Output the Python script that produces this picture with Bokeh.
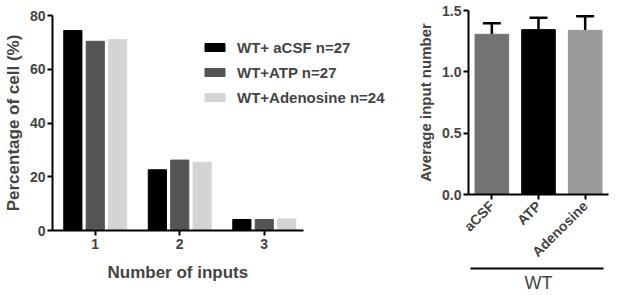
from bokeh.plotting import figure
from bokeh.layouts import row, column
from bokeh.models import (ColumnDataSource, Legend, LegendItem, FixedTicker, Whisker, TeeHead,
                          LinearAxis, Range1d, PrintfTickFormatter, Title)
from bokeh.embed import file_html
from bokeh.resources import INLINE
import math

# ---- data ----
groups = [1, 2, 3]
series_names = ["WT+ aCSF n=27", "WT+ATP n=27", "WT+Adenosine n=24"]
series_colors = ["#000000", "#555555", "#d4d4d4"]
aCSF_pct = [74.4, 22.6, 4.1]
ATP_pct = [70.4, 26.2, 4.1]
Adenosine_pct = [71.0, 25.4, 4.3]
left_y_ticks = [0, 20, 40, 60, 80]

conditions = ["aCSF", "ATP", "Adenosine"]
avg_input = [1.306, 1.344, 1.338]
avg_err = [0.091, 0.097, 0.116]
cond_colors = ["#747474", "#000000", "#9a9a9a"]
right_y_ticks = [0.0, 0.5, 1.0, 1.5]
group_label = "WT"

FONT = "Liberation Sans"

# ---- left chart ----
p1 = figure(width=390, height=295, output_backend="svg", toolbar_location=None,
            x_range=Range1d(0.494, 4.494), y_range=Range1d(0, 80),
            min_border_left=50, min_border_right=0, min_border_top=15, min_border_bottom=65)
p1.outline_line_color = None
p1.grid.grid_line_color = None

offsets = [-0.265, 0.0, 0.265]
renderers = []
for vals, off, col in zip([aCSF_pct, ATP_pct, Adenosine_pct], offsets, series_colors):
    src = ColumnDataSource(dict(x=[g + off for g in groups], top=vals))
    r = p1.vbar(x="x", top="top", width=0.215, bottom=0, source=src,
                fill_color=col, line_color=col)
    renderers.append(r)

legend = Legend(items=[LegendItem(label=n, renderers=[r]) for n, r in zip(series_names, renderers)],
                location=(150, 123), border_line_alpha=0, background_fill_alpha=0,
                padding=0, margin=0, spacing=5, glyph_width=25, glyph_height=10,
                label_height=20, label_standoff=10,
                label_text_font=FONT, label_text_font_style="bold", label_text_font_size="15px")
p1.add_layout(legend, "center")

p1.xaxis.ticker = FixedTicker(ticks=groups)
p1.xaxis.bounds = (0.494, 3.47)
p1.yaxis.ticker = FixedTicker(ticks=left_y_ticks)
for ax in [p1.xaxis[0], p1.yaxis[0]]:
    ax.axis_line_width = 2
    ax.major_tick_line_width = 2
    ax.major_tick_out = 5
    ax.major_tick_in = 0
    ax.minor_tick_line_color = None
    ax.major_label_text_font = FONT
    ax.major_label_text_font_style = "bold"
    ax.major_label_text_font_size = "14px"
    ax.axis_label_text_font = FONT
    ax.axis_label_text_font_style = "bold"
    ax.axis_label_text_font_size = "17px"
    ax.major_label_standoff = 3
p1.yaxis.axis_label = "Percentage of cell (%)"
p1.yaxis.axis_label_standoff = 4
p1.yaxis.major_label_standoff = 2

xtitle = Title(text="Number of inputs", align="left", offset=55, standoff=18,
               text_font=FONT, text_font_style="bold", text_font_size="17px")
p1.add_layout(xtitle, "below")

# ---- right chart ----
xpos = [i + 0.5 for i in range(len(conditions))]
p2 = figure(width=227, height=295, output_backend="svg", toolbar_location=None,
            x_range=Range1d(0, len(conditions)), y_range=Range1d(0, 1.5),
            min_border_left=78, min_border_right=9, min_border_top=10, min_border_bottom=100)
p2.outline_line_color = None
p2.grid.grid_line_color = None

src2 = ColumnDataSource(dict(x=xpos, top=avg_input,
                             upper=[a + e for a, e in zip(avg_input, avg_err)],
                             color=cond_colors))
p2.vbar(x="x", top="top", width=0.72, bottom=0, source=src2,
        fill_color="color", line_color="color")
wh = Whisker(source=src2, base="x", upper="upper", lower="top",
             upper_head=TeeHead(size=18, line_width=2.5, line_color="black"),
             lower_head=None, line_width=2.5, line_color="black")
p2.add_layout(wh)

p2.xaxis.ticker = FixedTicker(ticks=xpos)
p2.xaxis.major_label_overrides = {x: c for x, c in zip(xpos, conditions)}
p2.yaxis.ticker = FixedTicker(ticks=right_y_ticks)
p2.yaxis.formatter = PrintfTickFormatter(format="%.1f")
for ax in [p2.xaxis[0], p2.yaxis[0]]:
    ax.axis_line_width = 2
    ax.major_tick_line_width = 2
    ax.major_tick_out = 5
    ax.major_tick_in = 0
    ax.minor_tick_line_color = None
    ax.major_label_text_font = FONT
    ax.major_label_text_font_style = "bold"
    ax.major_label_text_font_size = "14px"
    ax.axis_label_text_font = FONT
    ax.axis_label_text_font_style = "bold"
    ax.axis_label_text_font_size = "15px"
    ax.major_label_standoff = 2
p2.yaxis.axis_label = "Average input number"
p2.yaxis.axis_label_standoff = 5
p2.xaxis.major_label_orientation = math.pi / 4
p2.xaxis.major_label_standoff = 4

wt_axis = LinearAxis(ticker=FixedTicker(ticks=[]), bounds=(0.043, 2.89),
                     axis_label=group_label, axis_label_text_font=FONT,
                     axis_label_text_font_style="normal",
                     axis_label_text_font_size="18px", axis_label_standoff=4,
                     axis_line_width=2, major_label_text_font_size="0px",
                     major_tick_line_color=None, minor_tick_line_color=None)
p2.add_layout(wt_axis, "below")

layout = row(column(p1), column(p2))
open("out.html", "w").write(file_html(layout, INLINE))
